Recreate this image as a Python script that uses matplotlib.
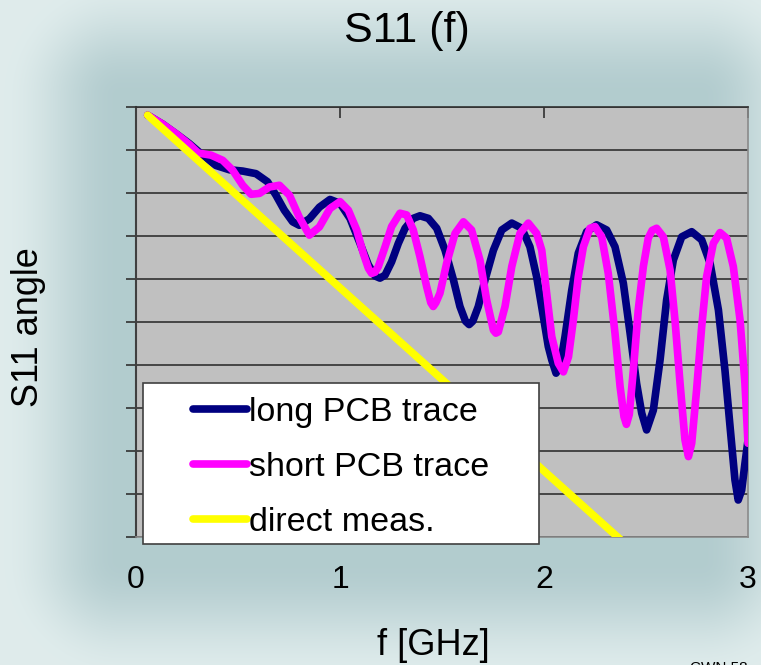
import numpy as np
import matplotlib.pyplot as plt
from matplotlib.patches import Rectangle
from matplotlib.lines import Line2D

# S11 phase vs frequency, values read in grid units (0 = bottom gridline, 10 = top)
freq_long = [0.057, 0.131, 0.196, 0.261, 0.327, 0.392, 0.458, 0.523, 0.588, 0.645,
             0.686, 0.727, 0.768, 0.800, 0.850, 0.899, 0.951, 1.000, 1.049, 1.098,
             1.139, 1.172, 1.196, 1.221, 1.253, 1.286, 1.319, 1.359, 1.392, 1.433,
             1.474, 1.515, 1.556, 1.588, 1.615, 1.633, 1.651, 1.678, 1.711, 1.752,
             1.793, 1.842, 1.891, 1.931, 1.964, 1.997, 2.021, 2.038, 2.059, 2.078,
             2.103, 2.136, 2.168, 2.209, 2.258, 2.307, 2.348, 2.389, 2.422, 2.454,
             2.479, 2.503, 2.536, 2.569, 2.601, 2.634, 2.675, 2.724, 2.773, 2.814,
             2.855, 2.887, 2.912, 2.936, 2.952, 2.969, 2.985, 3.000]
s11_long = [9.81, 9.60, 9.38, 9.15, 8.88, 8.64, 8.54, 8.51, 8.45, 8.26,
            7.95, 7.60, 7.33, 7.25, 7.40, 7.67, 7.85, 7.76, 7.41, 6.83,
            6.33, 6.07, 6.02, 6.09, 6.40, 6.83, 7.18, 7.41, 7.47, 7.41,
            7.18, 6.67, 5.98, 5.36, 5.02, 4.94, 5.02, 5.36, 5.98, 6.67,
            7.14, 7.30, 7.18, 6.75, 6.05, 5.12, 4.43, 4.12, 3.81, 3.96,
            4.66, 5.74, 6.60, 7.10, 7.26, 7.14, 6.75, 5.90, 4.74, 3.57,
            2.88, 2.49, 2.95, 4.12, 5.51, 6.44, 6.98, 7.10, 6.91, 6.37,
            5.28, 3.88, 2.57, 1.33, 0.86, 1.09, 1.71, 2.25]

freq_short = [0.057, 0.131, 0.196, 0.261, 0.305, 0.368, 0.425, 0.474, 0.523, 0.564,
              0.605, 0.654, 0.703, 0.752, 0.800, 0.850, 0.899, 0.951, 1.000, 1.041,
              1.082, 1.114, 1.139, 1.155, 1.172, 1.188, 1.221, 1.253, 1.294, 1.327,
              1.359, 1.392, 1.425, 1.445, 1.457, 1.470, 1.490, 1.523, 1.564, 1.605,
              1.645, 1.686, 1.719, 1.752, 1.764, 1.776, 1.809, 1.842, 1.882, 1.923,
              1.964, 1.989, 2.013, 2.038, 2.070, 2.095, 2.120, 2.144, 2.168, 2.193,
              2.225, 2.250, 2.283, 2.315, 2.348, 2.373, 2.392, 2.404, 2.418, 2.438,
              2.462, 2.487, 2.511, 2.530, 2.552, 2.585, 2.618, 2.642, 2.667, 2.691,
              2.708, 2.724, 2.748, 2.773, 2.797, 2.830, 2.863, 2.895, 2.928, 2.961,
              2.985, 3.000]
s11_short = [9.81, 9.60, 9.38, 9.13, 8.93, 8.88, 8.76, 8.53, 8.18, 7.97,
             7.99, 8.14, 8.18, 7.95, 7.44, 7.02, 7.21, 7.64, 7.80, 7.60,
             7.14, 6.60, 6.25, 6.13, 6.16, 6.29, 6.75, 7.22, 7.53, 7.49,
             7.14, 6.52, 5.82, 5.45, 5.36, 5.45, 5.67, 6.37, 7.06, 7.33,
             7.14, 6.44, 5.51, 4.81, 4.74, 4.77, 5.36, 6.29, 7.06, 7.30,
             7.06, 6.67, 5.67, 4.66, 4.04, 3.84, 4.19, 5.05, 6.05, 6.75,
             7.18, 7.22, 6.98, 6.13, 4.74, 3.50, 2.80, 2.62, 2.85, 3.88,
             5.28, 6.29, 6.95, 7.13, 7.18, 6.98, 6.21, 5.05, 3.57, 2.26,
             1.87, 2.18, 3.42, 4.89, 6.05, 6.83, 7.08, 6.95, 6.29, 5.05,
             3.57, 2.18]

freq_direct = [0.057, 2.45]
s11_direct = [9.81, -0.38]

x_ticks = [0, 1, 2, 3]
labels = ['long PCB trace', 'short PCB trace', 'direct meas.']
colors = ['#000080', '#ff00ff', '#ffff00']

W, H = 761, 665
fig = plt.figure(figsize=(W / 100, H / 100), dpi=100)
plt.rcParams['font.family'] = ['Liberation Sans', 'DejaVu Sans']

# soft teal background glow around the plot area
yy, xx = np.mgrid[0:H, 0:W]
x0, y0, x1, y1 = 120, 95, 700, 560
dx = np.maximum(np.maximum(x0 - xx, xx - x1), 0)
dy = np.maximum(np.maximum(y0 - yy, yy - y1), 0)
d = np.sqrt(dx ** 2 + dy ** 2)
t = np.clip(d / 120.0, 0, 1)
t = t * t * (3 - 2 * t)
dark = np.array([0.70, 0.80, 0.81])
light = np.array([0.875, 0.925, 0.925])
bg = dark[None, None, :] + (light - dark)[None, None, :] * t[..., None]
bg_ax = fig.add_axes([0, 0, 1, 1], zorder=-5)
bg_ax.imshow(bg, aspect='auto', interpolation='bilinear')
bg_ax.axis('off')

ax = fig.add_axes([136 / W, 1 - 537 / H, 612 / W, 430 / H])
ax.set_facecolor('#c0c0c0')
ax.plot(freq_long, s11_long, color=colors[0], lw=5.5, solid_capstyle='round',
        solid_joinstyle='round', zorder=3)
ax.plot(freq_short, s11_short, color=colors[1], lw=5.5, solid_capstyle='round',
        solid_joinstyle='round', zorder=4)
ax.plot(freq_direct, s11_direct, color=colors[2], lw=5.5, solid_capstyle='round',
        zorder=5)

ax.set_xlim(0, 3)
ax.set_ylim(0, 10)
ax.set_xticks(x_ticks)
ax.set_xticklabels([str(v) for v in x_ticks], fontsize=23)
ax.set_yticks(np.arange(0, 11, 1))
ax.set_yticklabels([])
ax.grid(axis='y', color='#303030', lw=1.2)
ax.set_axisbelow(True)
ax.tick_params(axis='x', top=True, bottom=False, labelbottom=True, labeltop=False,
               direction='in', length=8, width=1.2, color='#303030', pad=20)
ax.tick_params(axis='y', left=True, direction='out', length=7, width=1.2,
               color='#303030')
ax.spines['left'].set_color('#404040')
ax.spines['left'].set_linewidth(1.5)
ax.spines['top'].set_color('#303030')
ax.spines['top'].set_linewidth(1.2)
for s in ['right', 'bottom']:
    ax.spines[s].set_color('#8a8a8a')
    ax.spines[s].set_linewidth(1.2)

# legend box
fig.patches.append(Rectangle((143 / W, 1 - 544 / H), 396 / W, 161 / H,
                             transform=fig.transFigure, facecolor='white',
                             edgecolor='#404040', lw=1.2, zorder=10))
handles = [Line2D([], [], color=c, lw=5.5, solid_capstyle='round') for c in colors]
fig.legend(handles, labels, loc='upper left', bbox_to_anchor=(193 / W, 1 - 397 / H),
           bbox_transform=fig.transFigure, frameon=False, borderpad=0,
           borderaxespad=0, handlelength=1.6, handletextpad=0.05,
           labelspacing=0.7, fontsize=24.5).set_zorder(11)

fig.text(407 / W, 1 - 42 / H, 'S11 (f)', fontsize=31, ha='center', va='baseline')
fig.text(28 / W, 1 - 327 / H, 'S11 angle', fontsize=26, rotation=90,
         ha='center', va='center')
fig.text(433 / W, 1 - 655 / H, 'f [GHz]', fontsize=26, ha='center', va='baseline')
fig.text(690 / W, 1 - 661 / H, 'CWN 58', fontsize=11, ha='left', va='top')

fig.savefig('out.png', dpi=100)
